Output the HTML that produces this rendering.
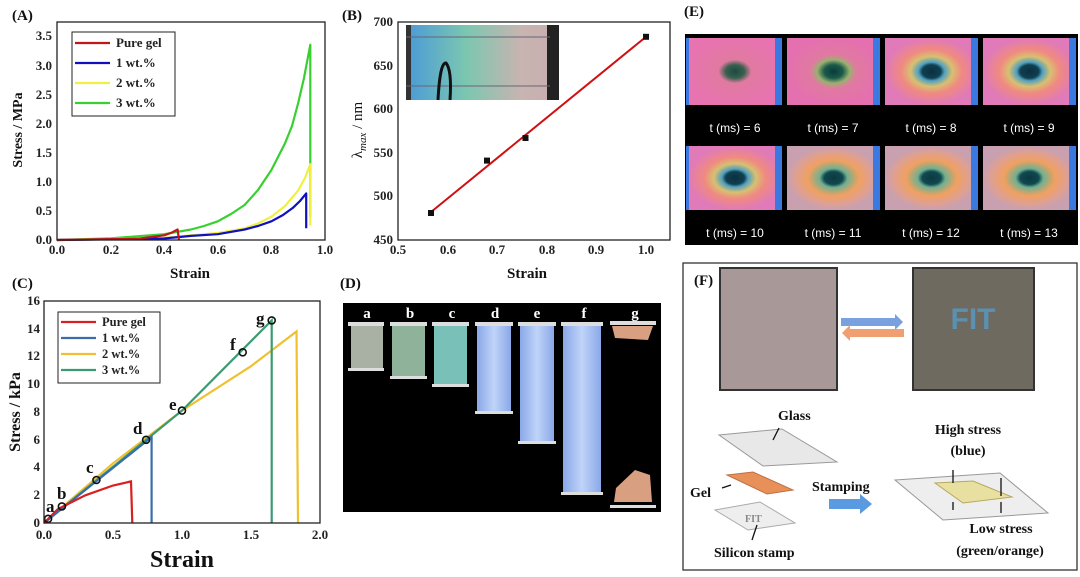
<!DOCTYPE html>
<html><head><meta charset="utf-8"><style>
html,body{margin:0;padding:0;background:#fff;}
svg{display:block;font-family:"Liberation Serif",serif;font-weight:bold;}
.t{font-size:13px;fill:#222;}
.lab{font-size:15px;fill:#111;}
.sans{font-family:"Liberation Sans",sans-serif;font-weight:normal;}
</style></head><body>
<svg width="1080" height="577" viewBox="0 0 1080 577" xmlns="http://www.w3.org/2000/svg">
<defs>
<linearGradient id="ins" x1="0" x2="1"><stop offset="0" stop-color="#4a9ad8"/><stop offset="0.4" stop-color="#7cc7b0"/><stop offset="0.75" stop-color="#c8b4b0"/><stop offset="1" stop-color="#c9aeb0"/></linearGradient>
<radialGradient id="e1"><stop offset="0" stop-color="#1a4a40"/><stop offset="0.2" stop-color="#3a6050"/><stop offset="0.35" stop-color="#e07aa0"/><stop offset="1" stop-color="#e774b0"/></radialGradient>
<radialGradient id="e2"><stop offset="0" stop-color="#0c3a3a"/><stop offset="0.2" stop-color="#1a5a4a"/><stop offset="0.35" stop-color="#9ab070"/><stop offset="0.5" stop-color="#e07aa0"/><stop offset="1" stop-color="#e470b0"/></radialGradient>
<radialGradient id="e3"><stop offset="0" stop-color="#0a3040"/><stop offset="0.2" stop-color="#104050"/><stop offset="0.28" stop-color="#50a0c0"/><stop offset="0.45" stop-color="#d8c070"/><stop offset="0.65" stop-color="#f08a80"/><stop offset="1" stop-color="#e07ab8"/></radialGradient>
<radialGradient id="e4"><stop offset="0" stop-color="#0c3a40"/><stop offset="0.2" stop-color="#104850"/><stop offset="0.3" stop-color="#70b090"/><stop offset="0.55" stop-color="#f0a060"/><stop offset="0.8" stop-color="#e0a090"/><stop offset="1" stop-color="#c8a0b0"/></radialGradient>
<linearGradient id="strip" x1="0" x2="1"><stop offset="0" stop-color="#8aa8e8"/><stop offset="0.5" stop-color="#c0d4f8"/><stop offset="1" stop-color="#8aa8e8"/></linearGradient>
</defs>

<!-- ===== Panel A ===== -->
<text x="12" y="20" class="lab">(A)</text>
<g class="t" text-anchor="end">
<text x="52" y="244">0.0</text><text x="52" y="215">0.5</text><text x="52" y="186">1.0</text><text x="52" y="157">1.5</text><text x="52" y="128">2.0</text><text x="52" y="99">2.5</text><text x="52" y="70">3.0</text><text x="52" y="40">3.5</text>
</g>
<g class="t" text-anchor="middle">
<text x="57" y="254">0.0</text><text x="111" y="254">0.2</text><text x="164" y="254">0.4</text><text x="218" y="254">0.6</text><text x="271" y="254">0.8</text><text x="325" y="254">1.0</text>
</g>
<text x="190" y="278" class="lab" text-anchor="middle">Strain</text>
<text transform="translate(22,130) rotate(-90)" class="lab" text-anchor="middle" style="font-size:14px">Stress / MPa</text>
<g fill="none" stroke-width="2.2" stroke-linejoin="round">
<polyline stroke="#38d030" points="57,240 110.6,238.3 164.2,234.2 191,229.5 204,226 217.8,221.3 231,214 244.6,205 258,190 271.4,170 284.8,143.8 292,126 298.2,103 304,78 310.3,44.7 310.3,216.7"/>
<polyline stroke="#f0f040" points="57,240 164,238 191,235.3 217.8,233 244.6,228.3 258,223.5 271.4,216.7 285,206 298.2,190.4 305,178 310.3,164.2 310.3,225.4"/>
<polyline stroke="#1010c0" points="57,240 164,238.5 191,235.9 217.8,234.2 244.6,229.5 258,226 271.4,221.3 283,215 292.8,207.9 300,201 306.2,193.4 306.2,228.3"/>
<polyline stroke="#c01818" points="57,240 137.4,238.8 164.2,235.3 172,232.5 177.6,229.5 179,240"/>
</g>
<rect x="57" y="22" width="268" height="218" fill="none" stroke="#222" stroke-width="1.3"/>
<rect x="72" y="32" width="103" height="84" fill="#fff" stroke="#222" stroke-width="1"/>
<g stroke-width="2.2"><line x1="75" y1="43" x2="110" y2="43" stroke="#c01818"/><line x1="75" y1="63" x2="110" y2="63" stroke="#1010c0"/><line x1="75" y1="83" x2="110" y2="83" stroke="#f0f040"/><line x1="75" y1="103" x2="110" y2="103" stroke="#38d030"/></g>
<g class="t" style="font-size:13px"><text x="116" y="47">Pure gel</text><text x="116" y="67">1 wt.%</text><text x="116" y="87">2 wt.%</text><text x="116" y="107">3 wt.%</text></g>

<!-- ===== Panel B ===== -->
<text x="342" y="20" class="lab">(B)</text>
<g class="t" text-anchor="end">
<text x="393" y="244">450</text><text x="393" y="200">500</text><text x="393" y="157">550</text><text x="393" y="113">600</text><text x="393" y="70">650</text><text x="393" y="26">700</text>
</g>
<g class="t" text-anchor="middle">
<text x="398" y="254">0.5</text><text x="448" y="254">0.6</text><text x="497" y="254">0.7</text><text x="547" y="254">0.8</text><text x="596" y="254">0.9</text><text x="646" y="254">1.0</text>
</g>
<text x="527" y="278" class="lab" text-anchor="middle">Strain</text>
<text transform="translate(362,130) rotate(-90)" class="lab" text-anchor="middle" style="font-size:15px;font-weight:normal">λ<tspan font-style="italic" font-size="11" dy="4">max</tspan><tspan dy="-4"> / nm</tspan></text>
<rect x="406" y="25" width="153" height="75" fill="url(#ins)"/>
<rect x="406" y="25" width="5" height="75" fill="#333"/><rect x="547" y="25" width="12" height="75" fill="#222"/>
<line x1="406" y1="37" x2="550" y2="37" stroke="#667" stroke-width="1"/><line x1="406" y1="86" x2="550" y2="86" stroke="#667" stroke-width="1"/>
<path d="M438,100 Q440,62 446,63 Q452,70 450,100" fill="none" stroke="#111" stroke-width="3"/>
<line x1="431" y1="212" x2="646" y2="36.8" stroke="#d01010" stroke-width="2"/>
<g fill="#111"><rect x="428" y="210" width="6" height="6"/><rect x="484" y="157.6" width="6" height="6"/><rect x="522.5" y="135" width="6" height="6"/><rect x="643" y="33.8" width="6" height="6"/></g>
<rect x="398" y="22" width="272" height="218" fill="none" stroke="#222" stroke-width="1.3"/>

<!-- ===== Panel C ===== -->
<text x="12" y="288" class="lab">(C)</text>
<g class="t" text-anchor="end">
<text x="40" y="527">0</text><text x="40" y="499">2</text><text x="40" y="471">4</text><text x="40" y="444">6</text><text x="40" y="416">8</text><text x="40" y="388">10</text><text x="40" y="360">12</text><text x="40" y="333">14</text><text x="40" y="305">16</text>
</g>
<g class="t" text-anchor="middle">
<text x="44" y="539">0.0</text><text x="113" y="539">0.5</text><text x="182" y="539">1.0</text><text x="251" y="539">1.5</text><text x="320" y="539">2.0</text>
</g>
<text x="182" y="567" class="lab" text-anchor="middle" style="font-size:24px">Strain</text>
<text transform="translate(20,412) rotate(-90)" class="lab" text-anchor="middle" style="font-size:16px">Stress / kPa</text>
<g fill="none" stroke-width="2.2">
<polyline stroke="#f0c030" points="44,523 113,463.3 182,410.6 251,366.2 296.5,331.5 298,523"/>
<polyline stroke="#3a9a70" points="44,523 182,410.6 271.7,320.4 271.7,523"/>
<polyline stroke="#3a6ea8" points="44,523 151.6,437 151.6,523"/>
<polyline stroke="#d82020" points="44,523 57.8,509.1 85.4,495.3 113,485.5 131,481.4 132.3,523"/>
</g>
<g fill="none" stroke="#111" stroke-width="1.6">
<circle cx="48.1" cy="518.8" r="3.5"/><circle cx="61.9" cy="506.4" r="3.5"/><circle cx="96.4" cy="480" r="3.5"/><circle cx="146.1" cy="439.8" r="3.5"/><circle cx="182" cy="410.6" r="3.5"/><circle cx="242.7" cy="352.3" r="3.5"/><circle cx="271.7" cy="320.4" r="3.5"/>
</g>
<g class="lab" style="font-size:17px"><text x="46" y="512">a</text><text x="57" y="499">b</text><text x="86" y="473">c</text><text x="133" y="434">d</text><text x="169" y="410">e</text><text x="230" y="350">f</text><text x="256" y="324">g</text></g>
<rect x="44" y="301" width="276" height="222" fill="none" stroke="#222" stroke-width="1.3"/>
<rect x="58" y="312" width="102" height="71" fill="#fff" stroke="#222" stroke-width="1"/>
<g stroke-width="2.2"><line x1="61" y1="322" x2="96" y2="322" stroke="#d82020"/><line x1="61" y1="338" x2="96" y2="338" stroke="#3a6ea8"/><line x1="61" y1="354" x2="96" y2="354" stroke="#f0c030"/><line x1="61" y1="370" x2="96" y2="370" stroke="#3a9a70"/></g>
<g class="t" style="font-size:12.5px"><text x="102" y="326">Pure gel</text><text x="102" y="342">1 wt.%</text><text x="102" y="358">2 wt.%</text><text x="102" y="374">3 wt.%</text></g>

<!-- ===== Panel D ===== -->
<text x="340" y="288" class="lab">(D)</text>
<rect x="343" y="303" width="318" height="209" fill="#000"/>
<g fill="#fff" style="font-size:15px" text-anchor="middle"><text x="367" y="318">a</text><text x="410" y="318">b</text><text x="452" y="318">c</text><text x="495" y="318">d</text><text x="537" y="318">e</text><text x="584" y="318">f</text><text x="635" y="318">g</text></g>
<rect x="351" y="326" width="32" height="44" fill="#a9b0a4"/>
<rect x="392" y="326" width="33" height="52" fill="#8eb29a"/>
<rect x="434" y="326" width="33" height="60" fill="#78c0b8"/>
<rect x="477" y="326" width="34" height="87" fill="url(#strip)"/>
<rect x="520" y="326" width="34" height="117" fill="url(#strip)"/>
<rect x="563" y="326" width="38" height="168" fill="url(#strip)"/>
<path d="M612,326 L653,326 L648,340 L615,338 Z" fill="#d8a080"/>
<path d="M614,502 L616,488 L635,470 L650,475 L652,502 Z" fill="#d8a080"/>
<g fill="#ddd"><rect x="348" y="322" width="36" height="4"/><rect x="348" y="368" width="36" height="3"/><rect x="390" y="322" width="37" height="4"/><rect x="390" y="376" width="37" height="3"/><rect x="432" y="322" width="37" height="4"/><rect x="432" y="384" width="37" height="3"/><rect x="475" y="322" width="38" height="4"/><rect x="475" y="411" width="38" height="3"/><rect x="518" y="322" width="38" height="4"/><rect x="518" y="441" width="38" height="3"/><rect x="561" y="322" width="42" height="4"/><rect x="561" y="492" width="42" height="3"/><rect x="610" y="321" width="46" height="4"/><rect x="610" y="505" width="46" height="3"/></g>

<!-- ===== Panel E ===== -->
<text x="684" y="16" class="lab">(E)</text>
<rect x="685" y="34" width="393" height="211" fill="#000"/>
<g>
<rect x="688" y="38" width="94" height="67" fill="url(#e1)"/>
<rect x="787" y="38" width="93" height="67" fill="url(#e2)"/>
<rect x="885" y="38" width="93" height="67" fill="url(#e3)"/>
<rect x="983" y="38" width="93" height="67" fill="url(#e3)"/>
<rect x="688" y="146" width="94" height="64" fill="url(#e3)"/>
<rect x="787" y="146" width="93" height="64" fill="url(#e4)"/>
<rect x="885" y="146" width="93" height="64" fill="url(#e4)"/>
<rect x="983" y="146" width="93" height="64" fill="url(#e4)"/>
</g>
<g fill="#3a7ae0"><rect x="775" y="38" width="7" height="67"/><rect x="873" y="38" width="7" height="67"/><rect x="971" y="38" width="7" height="67"/><rect x="1069" y="38" width="7" height="67"/><rect x="775" y="146" width="7" height="64"/><rect x="873" y="146" width="7" height="64"/><rect x="971" y="146" width="7" height="64"/><rect x="1069" y="146" width="7" height="64"/><rect x="686" y="38" width="3" height="67"/><rect x="686" y="146" width="3" height="64"/></g>
<g class="sans" fill="#fff" style="font-size:12px" text-anchor="middle">
<text x="735" y="132">t (ms) = 6</text><text x="833" y="132">t (ms) = 7</text><text x="931" y="132">t (ms) = 8</text><text x="1029" y="132">t (ms) = 9</text>
<text x="735" y="237">t (ms) = 10</text><text x="833" y="237">t (ms) = 11</text><text x="931" y="237">t (ms) = 12</text><text x="1029" y="237">t (ms) = 13</text>
</g>

<!-- ===== Panel F ===== -->
<rect x="683" y="263" width="394" height="307" fill="#fff" stroke="#333" stroke-width="1.3"/>
<text x="694" y="285" class="lab">(F)</text>
<rect x="720" y="268" width="117" height="122" fill="#a89898" stroke="#333" stroke-width="2"/>
<rect x="913" y="268" width="121" height="122" fill="#6e6a60" stroke="#333" stroke-width="2"/>
<text x="973" y="329" text-anchor="middle" fill="#5a90b0" style="font-family:'Liberation Sans',sans-serif;font-size:30px;font-weight:bold">FIT</text>
<path d="M841,318 L895,318 L895,314 L903,322 L895,330 L895,326 L841,326 Z" fill="#7aa0e0"/>
<path d="M904,329 L850,329 L850,325 L842,333 L850,341 L850,337 L904,337 Z" fill="#f0a070"/>
<polygon points="719,435 782,429 837,462 763,466" fill="#e8e8e8" stroke="#999"/>
<polygon points="727,475 753,472 793,490 767,494" fill="#e8905a" stroke="#c07040"/>
<polygon points="715,510 760,502 795,523 748,530" fill="#eeeeee" stroke="#aaa"/>
<text x="745" y="522" fill="#888" style="font-size:10px">FIT</text>
<polygon points="895,480 1000,473 1048,513 943,520" fill="#eee" stroke="#999"/>
<polygon points="935,483 973,481 1012,497 963,503" fill="#e8e0a0" stroke="#b8a860"/>
<path d="M829,499 L860,499 L860,494 L872,504 L860,514 L860,509 L829,509 Z" fill="#5a9ae0"/>
<g stroke="#111" stroke-width="1.3" fill="none"><line x1="773" y1="440" x2="779" y2="428"/><line x1="722" y1="488" x2="731" y2="485"/><line x1="757" y1="525" x2="752" y2="540"/><line x1="953" y1="470" x2="953" y2="483"/><line x1="1001" y1="478" x2="1001" y2="496"/><line x1="953" y1="502" x2="953" y2="510"/><line x1="1001" y1="502" x2="1001" y2="513"/></g>
<g class="lab" style="font-size:14px">
<text x="778" y="420">Glass</text><text x="690" y="497">Gel</text><text x="812" y="491">Stamping</text><text x="714" y="557">Silicon stamp</text>
<text x="968" y="434" text-anchor="middle">High stress</text><text x="968" y="455" text-anchor="middle">(blue)</text>
<text x="1001" y="533" text-anchor="middle">Low stress</text><text x="1000" y="555" text-anchor="middle">(green/orange)</text>
</g>
</svg>
</body></html>
